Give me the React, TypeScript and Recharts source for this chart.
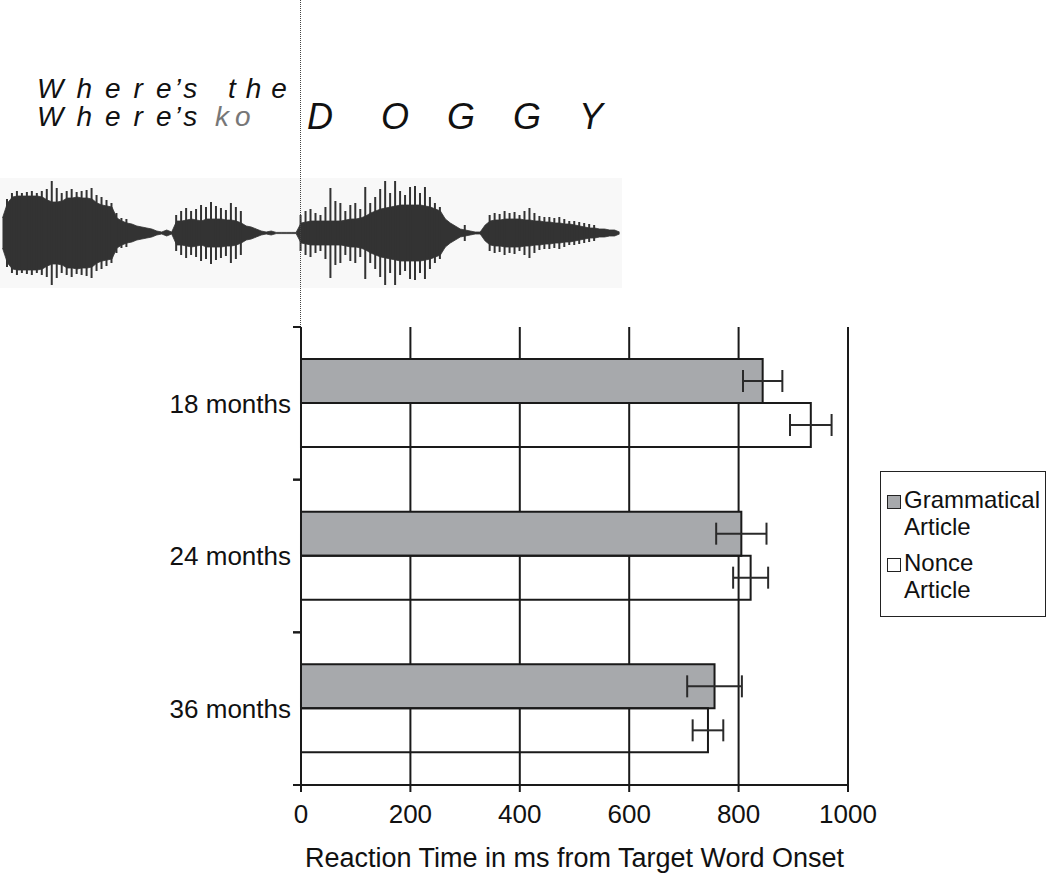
import { BarChart, Bar, XAxis, YAxis, CartesianGrid, ErrorBar, Legend, ComposedChart, Area } from 'recharts';

const FONT = '"Liberation Sans", Arial, Helvetica, sans-serif';

// reaction time (ms from target word onset), by age group
const ages = ['18 months', '24 months', '36 months'];
const grammatical = [844, 805, 756];
const grammaticalErr = [36, 46, 50];
const nonce = [932, 822, 744];
const nonceErr = [38, 32, 28];
const xTicks = [0, 200, 400, 600, 800, 1000];

// speech waveform envelope ("Where's the DOGGY"), half amplitude per 5px slice
const waveBody = [
    15, 30, 36, 37, 37, 37, 37, 37, 36, 33,
    31, 31, 32, 35, 35, 36, 35, 35, 34, 30,
    28, 27, 26, 15, 12, 10, 9, 7, 6, 5,
    4, 2, 1, 3, 1, 12, 12, 13, 14, 13,
    12, 14, 14, 14, 14, 13, 13, 12, 10, 7,
    6, 4, 2, 1, 2, 0.6, 0.6, 0.6, 0.6, 0.6,
    10, 11, 12, 12, 12, 12, 12, 12, 12, 13,
    14, 14, 15, 17, 20, 22, 24, 25, 26, 27,
    28, 28, 28, 28, 28, 27, 26, 24, 22, 14,
    10, 7, 4, 3, 2, 1, 1, 8, 12, 13,
    13, 14, 14, 14, 14, 13, 13, 12, 12, 11,
    11, 10, 10, 9, 9, 8, 7, 6, 5, 5,
    4, 4, 3, 3, 1,
];
const waveSpike = [
    0, 34, 40, 42, 40, 41, 42, 40, 42, 44,
    52, 45, 40, 42, 44, 41, 42, 43, 45, 38,
    36, 33, 30, 20, 15, 14, 0, 0, 0, 0,
    0, 0, 0, 0, 0, 18, 22, 25, 22, 24,
    28, 26, 31, 27, 25, 23, 30, 26, 22, 0,
    0, 0, 0, 0, 0, 0, 0, 0, 0, 0,
    18, 22, 24, 20, 18, 26, 45, 32, 30, 22,
    28, 30, 24, 46, 30, 36, 44, 52, 40, 52,
    42, 38, 46, 47, 40, 46, 36, 30, 26, 0,
    0, 0, 0, 8, 0, 0, 0, 0, 18, 20,
    19, 22, 20, 21, 18, 22, 25, 20, 17, 16,
    16, 15, 16, 14, 12, 12, 11, 10, 9, 8,
    0, 0, 0, 0, 0,
];

const chartData = ages.map((age, i) => ({
    age,
    grammatical: grammatical[i],
    gErr: grammaticalErr[i],
    nonce: nonce[i],
    nErr: nonceErr[i],
}));

const waveData = waveBody.map((b, i) => ({
    body: [-b, b],
    spike: waveSpike[i] ? [-waveSpike[i], waveSpike[i]] : null,
}));

// category label plus the band-edge tick marks (ticks sit between categories)
function AgeTick(props: any) {
    const { x, y, payload } = props;
    const half = payload && payload.offset ? payload.offset : 76;
    return (
        <g>
            <line x1={x - 8} x2={x} y1={y - half} y2={y - half} stroke="#1a1a1a" strokeWidth={2} />
            <line x1={x - 8} x2={x} y1={y + half} y2={y + half} stroke="#1a1a1a" strokeWidth={2} />
            <text x={x - 10} y={y} dy="0.36em" textAnchor="end" fontSize={26} fill="#111" fontFamily={FONT}>
                {payload.value}
            </text>
        </g>
    );
}

const swatch: Record<string, string> = { grammatical: '#a7a9ac', nonce: '#ffffff' };

function LegendBox(props: any) {
    const { payload } = props;
    return (
        <div style={{ border: '1.5px solid #222', boxSizing: 'border-box', width: 166, height: 146, padding: '14px 2px 0 6px', background: '#fff', fontFamily: FONT, fontSize: 24, color: '#111', lineHeight: '27px' }}>
            {(payload || []).map((entry: any) => (
                <div key={entry.dataKey} style={{ display: 'flex', alignItems: 'flex-start', marginBottom: 9 }}>
                    <span style={{ display: 'inline-block', width: 12, height: 12, marginTop: 9, marginRight: 3, border: '1px solid #222', background: swatch[entry.dataKey], flexShrink: 0 }} />
                    <span>{entry.value}</span>
                </div>
            ))}
        </div>
    );
}

export default function App() {
    return (
        <div style={{ position: 'absolute', left: 0, top: 0, width: 1050, height: 875, background: '#fff', fontFamily: FONT, overflow: 'hidden' }}>
            {/* sentence frame above the waveform */}
            <svg width={1050} height={160} style={{ position: 'absolute', left: 0, top: 0 }}>
                <text x={37} y={98} fontSize={28} fontStyle="italic" fill="#111" fontFamily={FONT}>
                    <tspan letterSpacing={13}>Wher</tspan>
                    <tspan letterSpacing={3}>e’s</tspan>
                    <tspan x={228} letterSpacing={10}>the</tspan>
                </text>
                <text x={37} y={126} fontSize={28} fontStyle="italic" fill="#111" fontFamily={FONT}>
                    <tspan letterSpacing={13}>Wher</tspan>
                    <tspan letterSpacing={3}>e’s</tspan>
                    <tspan x={215} letterSpacing={6} fill="#777">ko</tspan>
                </text>
                <text x={307} y={129} fontSize={36} fontStyle="italic" letterSpacing={38} fill="#111" fontFamily={FONT}>
                    D<tspan dx={10}>OGGY</tspan>
                </text>
            </svg>

            {/* waveform */}
            <div style={{ position: 'absolute', left: 0, top: 178, width: 622, height: 110, background: '#f8f8f8' }} />
            <div style={{ position: 'absolute', left: 0, top: 177 }}>
                <ComposedChart width={622} height={112} data={waveData} margin={{ top: 0, right: 0, bottom: 0, left: 0 }}>
                    <XAxis hide />
                    <YAxis hide type="number" domain={[-56, 56]} />
                    <Area dataKey="body" type="linear" stroke="#333" strokeWidth={0.8} fill="#333" fillOpacity={1} isAnimationActive={false} />
                    <Bar dataKey="spike" barSize={2} fill="#333" isAnimationActive={false} />
                </ComposedChart>
            </div>

            {/* target word onset marker */}
            <div style={{ position: 'absolute', left: 300, top: 0, width: 0, height: 327, borderLeft: '1px dotted #444' }} />

            <div style={{ position: 'absolute', left: 0, top: 0 }}>
                <BarChart
                    width={1050}
                    height={875}
                    data={chartData}
                    layout="vertical"
                    barGap={0}
                    barSize={44}
                    margin={{ top: 327, right: 202, bottom: 0, left: 161 }}
                >
                    <CartesianGrid horizontal={false} stroke="#1a1a1a" strokeWidth={2} />
                    <XAxis
                        type="number"
                        domain={[0, 1000]}
                        ticks={xTicks}
                        height={90}
                        tickSize={7}
                        tickMargin={13}
                        axisLine={{ stroke: '#1a1a1a', strokeWidth: 2 }}
                        tickLine={{ stroke: '#1a1a1a', strokeWidth: 2 }}
                        tick={{ fontSize: 26, fill: '#111', fontFamily: FONT }}
                        label={{ value: 'Reaction Time in ms from Target Word Onset', position: 'insideBottom', offset: 8, fontSize: 27, fill: '#111', fontFamily: FONT }}
                    />
                    <YAxis
                        type="category"
                        dataKey="age"
                        width={140}
                        tickSize={0}
                        tickMargin={0}
                        tickLine={false}
                        axisLine={{ stroke: '#1a1a1a', strokeWidth: 2 }}
                        tick={<AgeTick />}
                    />
                    <Legend
                        layout="vertical"
                        align="center"
                        verticalAlign="middle"
                        content={<LegendBox />}
                        wrapperStyle={{ position: 'absolute', left: 880, top: 471, width: 166 }}
                    />
                    <Bar dataKey="grammatical" name="Grammatical Article" fill="#a7a9ac" stroke="#1a1a1a" strokeWidth={2} isAnimationActive={false}>
                        <ErrorBar dataKey="gErr" direction="x" width={11} stroke="#2a2a2a" strokeWidth={2} isAnimationActive={false} />
                    </Bar>
                    <Bar dataKey="nonce" name="Nonce Article" fill="none" stroke="#1a1a1a" strokeWidth={2} isAnimationActive={false}>
                        <ErrorBar dataKey="nErr" direction="x" width={11} stroke="#2a2a2a" strokeWidth={2} isAnimationActive={false} />
                    </Bar>
                </BarChart>
            </div>
        </div>
    );
}
